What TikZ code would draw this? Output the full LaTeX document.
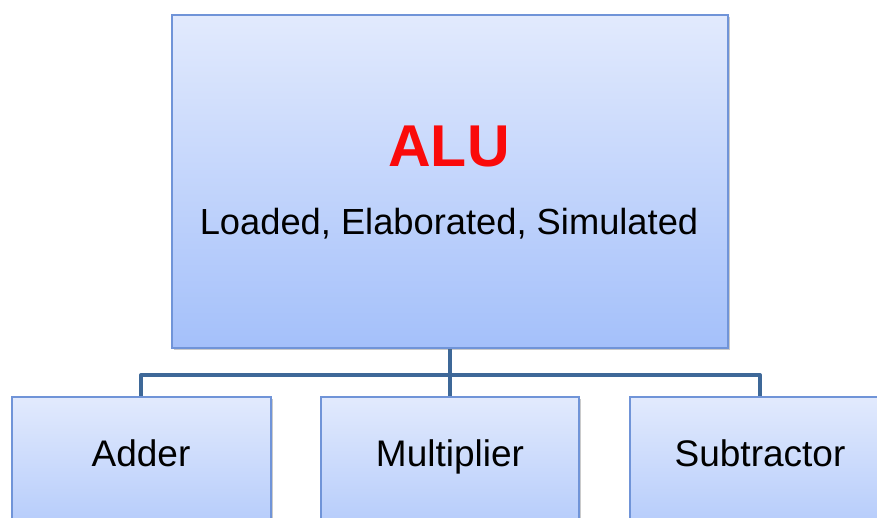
\documentclass[tikz,border=0pt]{standalone}
\usepackage{fontspec}
\setmainfont{Liberation Sans}
\usetikzlibrary{shadows}
\definecolor{boxtop}{RGB}{226,234,253}
\definecolor{boxbot}{RGB}{164,192,250}
\definecolor{boxedge}{RGB}{112,148,216}
\definecolor{linkblue}{RGB}{62,104,152}
\definecolor{alured}{RGB}{250,10,10}
\tikzset{
  x=1pt, y=-1pt,
  blockbox/.style={draw=boxedge, line width=1.6pt, top color=boxtop, bottom color=boxbot,
    anchor=north west, inner sep=0pt,
    drop shadow={shadow xshift=2pt, shadow yshift=-2pt, opacity=0.35, fill=black!60}},
  link/.style={draw=linkblue, line width=4pt, line join=round},
  label/.style={font=\fontsize{37}{40}\selectfont, text=black, anchor=base, inner sep=0pt}
}
\begin{document}
\begin{tikzpicture}
\useasboundingbox (0,0) rectangle (877,517);
\clip (0,0) rectangle (877,517);
% connectors
\coordinate (hubL) at (141,375);
\coordinate (hubR) at (760,375);
\draw[link] (450,347) -- (450,396);
\draw[link] (141,396) -- (hubL) -- (hubR) -- (760,396);
% top block
\node[blockbox, minimum width=556pt, minimum height=333pt] (alu) at (171,14) {};
\node[font=\bfseries\fontsize{59}{62}\selectfont, text=alured, anchor=base, inner sep=0pt] (alut) at (449,166) {ALU};
\node[label, font=\fontsize{36.3}{40}\selectfont] (alus) at (449,234) {Loaded, Elaborated, Simulated};
% child blocks
\node[blockbox, minimum width=259pt, minimum height=180pt] (add) at (11,396) {};
\node[blockbox, minimum width=258pt, minimum height=180pt] (mul) at (320,396) {};
\node[blockbox, minimum width=259pt, minimum height=180pt] (sub) at (629,396) {};
\node[label] (addt) at (141,466) {Adder};
\node[label] (mult) at (450,466) {Multiplier};
\node[label] (subt) at (760,466) {Subtractor};
\end{tikzpicture}
\end{document}
